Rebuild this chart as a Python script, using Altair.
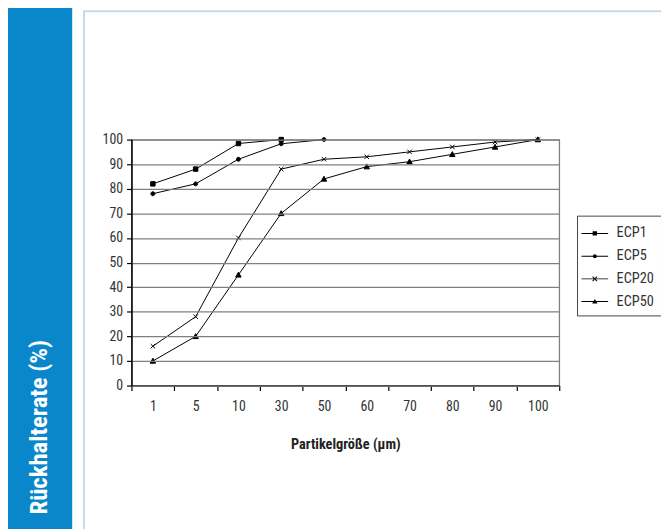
import altair as alt
import pandas as pd

# ---- data ----
sizes = ["1", "5", "10", "30", "50", "60", "70", "80", "90", "100"]
series_names = ["ECP1", "ECP5", "ECP20", "ECP50"]
ecp1 = [82, 88, 98.4, 100, None, None, None, None, None, None]
ecp5 = [78, 82, 92, 98.3, 100, None, None, None, None, None]
ecp20 = [16, 28, 60, 88, 92, 93, 95, 97, 99, 100]
ecp50 = [10, 20, 45, 70, 84, 89, 91, 94, 97, 100]

rows = []
for name, vals in zip(series_names, [ecp1, ecp5, ecp20, ecp50]):
    for s, v in zip(sizes, vals):
        if v is not None:
            rows.append({"Größe": s, "Rückhalterate": v, "Serie": name})
df = pd.DataFrame(rows)

FONT = "Liberation Sans Narrow, Roboto Condensed, Arial Narrow, sans-serif"

# plot-area geometry (pixels)
W, H = 433, 249

marker_paths = [
    "M-0.9,-0.9H0.9V0.9H-0.9Z",
    "M-0.8,0A0.8,0.8,0,1,1,0.8,0A0.8,0.8,0,1,1,-0.8,0Z",
    "M-0.9,-0.9L0.9,0.9M-0.9,0.9L0.9,-0.9",
    "M0,-1.1L1.1,0.9H-1.1Z",
]
# legend symbols: a thin filled bar (the line) plus the marker, all filled shapes
LINE = "M-1.35,-0.05H1.35V0.05H-1.35Z"
legend_paths = [
    LINE + "M-0.22,-0.22H0.22V0.22H-0.22Z",
    LINE + "M-0.2,0A0.2,0.2,0,1,1,0.2,0A0.2,0.2,0,1,1,-0.2,0Z",
    LINE + "M-0.185,-0.255L0.255,0.185L0.185,0.255L-0.255,-0.185Z"
           "M-0.185,0.255L0.255,-0.185L0.185,-0.255L-0.255,0.185Z",
    LINE + "M0,-0.27L0.27,0.2H-0.27Z",
]

one = pd.DataFrame({"k": [0]})

band = alt.Chart(one).mark_rect(color="#0a87cb").encode(
    x=alt.value(-125), x2=alt.value(-60), y=alt.value(-135), y2=alt.value(600)
)
panel = alt.Chart(one).mark_rect(fillOpacity=0, stroke="#c2dbef", strokeWidth=2).encode(
    x=alt.value(-48), x2=alt.value(700), y=alt.value(-130), y2=alt.value(600)
)

xaxis = alt.Axis(
    title="Partikelgröße (µm)",
    titleFont=FONT, titleFontSize=14.5, titleFontWeight="bold", titleColor="#222",
    titleY=60, titleBaseline="middle",
    labelFont=FONT, labelFontSize=14, labelColor="#333", labelAngle=0,
    labelPadding=9, tickSize=5, tickBand="extent", tickColor="#000",
    domainColor="#000", domainWidth=1.5, tickWidth=1.2, grid=False,
)
yaxis = alt.Axis(
    values=list(range(0, 101, 10)),
    title="Rückhalterate (%)",
    titleFont=FONT, titleFontSize=25, titleFontWeight="bold", titleColor="white",
    titleAngle=270, titleAlign="left", titleBaseline="middle",
    titleX=-94, titleY=379,
    labelFont=FONT, labelFontSize=14, labelColor="#333", labelPadding=4,
    tickSize=5, tickColor="#000", domainColor="#000", domainWidth=1.5, tickWidth=1.2,
    grid=True, gridColor="#808080", gridWidth=1.3, zindex=1,
)


def xenc():
    return alt.X(
        "Größe:O", sort=sizes,
        scale=alt.Scale(type="band", paddingInner=0, paddingOuter=0),
        bandPosition=0.5, axis=xaxis,
    )


def yenc():
    return alt.Y("Rückhalterate:Q", scale=alt.Scale(domain=[0, 100], nice=False), axis=yaxis)


lines = alt.Chart(df).mark_line(color="black", strokeWidth=1).encode(
    x=xenc(), y=yenc(), detail="Serie:N"
)
points = alt.Chart(df).mark_point(
    filled=True, fill="black", stroke="black", strokeWidth=1, opacity=1, size=25
).encode(
    x=xenc(), y=yenc(),
    shape=alt.Shape("Serie:N", sort=series_names,
                    scale=alt.Scale(domain=series_names, range=marker_paths), legend=None),
)
legend_layer = alt.Chart(df).mark_point(filled=True, color="black", opacity=0).encode(
    x=xenc(), y=yenc(),
    shape=alt.Shape(
        "Serie:N", sort=series_names,
        scale=alt.Scale(domain=series_names, range=legend_paths),
        legend=alt.Legend(
            title=None, orient="none", legendX=451, legendY=77,
            padding=7, strokeColor="#444", fillColor="white",
            symbolSize=400, symbolOpacity=1, symbolFillColor="black",
            labelFont=FONT, labelFontSize=14.5, labelColor="#333", labelOffset=11,
            rowPadding=5,
        ),
    ),
)

chart = (
    alt.layer(band, panel, lines, points, legend_layer)
    .resolve_scale(shape="independent")
    .properties(
        width=W, height=H,
        autosize=alt.AutoSizeParams(type="none"),
        padding={"left": 125, "top": 130, "right": 103, "bottom": 142},
        background="white",
    )
    .configure_view(stroke="#808080", strokeWidth=1.3)
)

chart.save("out.html", embed_options={"renderer": "svg", "actions": False})
